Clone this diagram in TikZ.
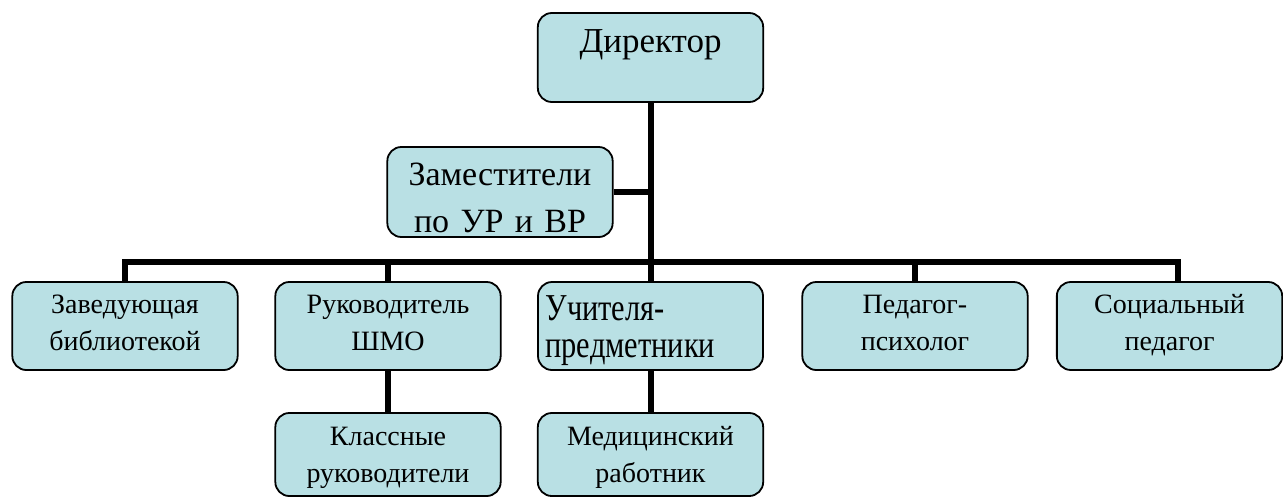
\documentclass[tikz,border=0pt]{standalone}
\usepackage{fontspec}
\setmainfont{Liberation Serif}
\newfontfamily\narrowserif{Liberation Serif}[FakeStretch=0.8]
\definecolor{boxfill}{RGB}{185,224,228}

\begin{document}
\begin{tikzpicture}[
		x=0.5pt, y=-0.5pt,
		orgnode/.style={
		% The shape:
		rectangle,
		rounded corners=7pt,
		% The size:
		minimum width=112.5pt,
		text width=106pt,
		inner ysep=0pt,
		% The border:
		draw=black,
		line width=0.9pt,
		% The filling:
		fill=boxfill,
		% Font
		font=\fontsize{14}{18.5}\selectfont,
		align=center
    		},
		% space above the first baseline and below the last one
		vgap/.style 2 args={
		execute at begin node={\rule{0pt}{#1}},
		execute at end node={\rule[-#2]{0pt}{#2}}
		},
		conn/.style={line width=3pt, line join=miter}
	]
	\useasboundingbox (0,0) rectangle (1283,498);

	\node (dir)[orgnode, vgap={19.5pt}{25pt}, font=\fontsize{17.5}{23.5}\selectfont] at (650.5,57.5) {Директор};
	\node (zam)[orgnode, vgap={19pt}{2.5pt}, font=\fontsize{17}{23.5}\selectfont] at (500,192) {Заместители\\по УР и ВР};
	\node (bib)[orgnode, vgap={15.5pt}{10pt}] at (125,326) {Заведующая\\библиотекой};
	\node (shmo)[orgnode, vgap={15.5pt}{10pt}] at (388,326) {Руководитель\\ШМО};
	\node (uch)[orgnode, vgap={19pt}{6.5pt}, inner xsep=3.5pt, text width=105pt, align=left, font=\narrowserif\fontsize{19}{18.5}\selectfont] at (650.5,326) {Учителя-\\предметники};
	\node (psy)[orgnode, vgap={15.5pt}{10pt}] at (915,326) {Педагог-\\психолог};
	\node (soc)[orgnode, vgap={15.5pt}{10pt}] at (1169.5,326) {Социальный\\педагог};
	\node (kl)[orgnode, vgap={16pt}{7pt}] at (388,454.5) {Классные\\руководители};
	\node (med)[orgnode, vgap={16pt}{7pt}] at (650.5,454.5) {Медицинский\\работник};
	\coordinate (bar) at (650.5,262);

	\draw [conn] (dir) -- (uch);
	\draw [conn] (zam) -- (zam -| dir);
	\draw [conn] (bib) |- (bar) -| ([xshift=4.25pt]soc.north);
	\draw [conn] (shmo) -- (shmo |- bar);
	\draw [conn] (psy) -- (psy |- bar);
	\draw [conn] (shmo) -- (kl);
	\draw [conn] (uch) -- (med);
\end{tikzpicture}
\end{document}
